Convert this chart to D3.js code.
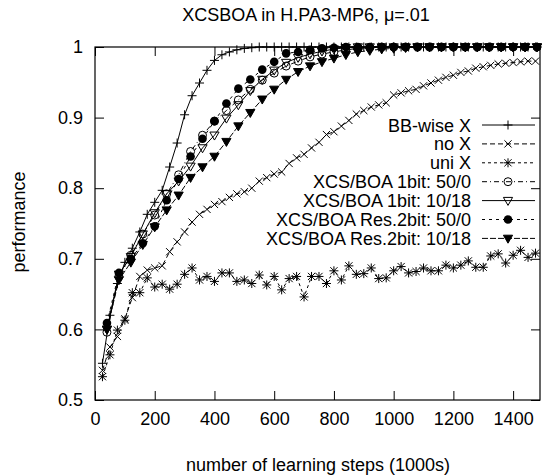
<!DOCTYPE html>
<html>
<head>
<meta charset="utf-8">
<script src="https://cdn.jsdelivr.net/npm/d3@7"></script>
<style>
body { margin: 0; background: #fff; }
text { font-family: "Liberation Sans", Arial, Helvetica, sans-serif; font-size: 18px; fill: #000; }
</style>
</head>
<body>
<script>
// learning steps (1000s) for the X experiments and for the XCS/BOA runs
var stepsX = [25, 50, 75, 100, 125, 150, 175, 200, 225, 250, 275, 300, 325, 350, 375, 400, 425, 450, 475, 500,
              525, 550, 575, 600, 625, 650, 675, 700, 725, 750, 775, 800, 825, 850, 875, 900, 925, 950, 975, 1000,
              1025, 1050, 1075, 1100, 1125, 1150, 1175, 1200, 1225, 1250, 1275, 1300, 1325, 1350, 1375, 1400, 1425, 1450, 1475];
var stepsBOA = [40, 80, 120, 160, 200, 240, 280, 320, 360, 400, 440, 480, 520, 560, 600, 640, 680, 720, 760, 800,
                840, 880, 920, 960, 1000, 1040, 1080, 1120, 1160, 1200, 1240, 1280, 1320, 1360, 1400, 1440, 1480];

var bbWise = [0.552, 0.62, 0.665, 0.695, 0.715, 0.738, 0.763, 0.78, 0.797, 0.83, 0.864, 0.904, 0.931, 0.949, 0.967, 0.981, 0.989, 0.993, 0.996, 0.998,
              0.999, 1, 1, 1, 1, 1, 1, 1, 1, 1, 1, 1, 1, 1, 1, 1, 1, 1, 1, 1,
              1, 1, 1, 1, 1, 1, 1, 1, 1, 1, 1, 1, 1, 1, 1, 1, 1, 1, 1];
var noX = [0.542, 0.575, 0.59, 0.615, 0.645, 0.675, 0.684, 0.687, 0.69, 0.71, 0.724, 0.738, 0.752, 0.763, 0.77, 0.777, 0.781, 0.787, 0.792, 0.795,
           0.8, 0.81, 0.815, 0.82, 0.823, 0.835, 0.843, 0.848, 0.857, 0.865, 0.876, 0.88, 0.888, 0.896, 0.905, 0.91, 0.915, 0.918, 0.921, 0.932,
           0.935, 0.938, 0.94, 0.945, 0.949, 0.953, 0.957, 0.96, 0.964, 0.966, 0.97, 0.972, 0.974, 0.976, 0.977, 0.978, 0.979, 0.98, 0.98];
var uniX = [0.533, 0.564, 0.599, 0.613, 0.652, 0.652, 0.673, 0.66, 0.664, 0.657, 0.664, 0.678, 0.687, 0.67, 0.675, 0.668, 0.68, 0.68, 0.668, 0.67,
            0.665, 0.677, 0.663, 0.675, 0.656, 0.672, 0.675, 0.646, 0.675, 0.675, 0.665, 0.683, 0.67, 0.69, 0.678, 0.679, 0.687, 0.672, 0.673, 0.683,
            0.689, 0.68, 0.682, 0.687, 0.683, 0.683, 0.691, 0.687, 0.691, 0.697, 0.688, 0.688, 0.704, 0.707, 0.694, 0.705, 0.712, 0.702, 0.708];
var boa1bit50 = [0.596, 0.675, 0.705, 0.735, 0.762, 0.792, 0.819, 0.852, 0.875, 0.895, 0.91, 0.925, 0.94, 0.953, 0.963, 0.973, 0.98, 0.986, 0.99, 0.993,
                 0.996, 0.998, 0.999, 1, 1, 1, 1, 1, 1, 1, 1, 1, 1, 1, 1, 1, 1];
var boa1bit10 = [0.6, 0.678, 0.703, 0.735, 0.765, 0.792, 0.81, 0.831, 0.857, 0.875, 0.899, 0.918, 0.938, 0.954, 0.967, 0.978, 0.985, 0.99, 0.994, 0.997,
                 0.999, 1, 1, 1, 1, 1, 1, 1, 1, 1, 1, 1, 1, 1, 1, 1, 1];
var boaRes50 = [0.609, 0.68, 0.7, 0.722, 0.746, 0.783, 0.813, 0.845, 0.87, 0.895, 0.92, 0.941, 0.954, 0.968, 0.979, 0.991, 0.993, 0.996, 0.998, 0.999,
                1, 1, 1, 1, 1, 1, 1, 1, 1, 1, 1, 1, 1, 1, 1, 1, 1];
var boaRes10 = [0.6, 0.67, 0.695, 0.72, 0.745, 0.769, 0.79, 0.815, 0.83, 0.845, 0.866, 0.888, 0.907, 0.926, 0.94, 0.954, 0.965, 0.973, 0.979, 0.984,
                0.989, 0.993, 0.995, 0.997, 0.998, 0.999, 1, 1, 1, 1, 1, 1, 1, 1, 1, 1, 1];

var seriesNames = ["BB-wise X", "no X", "uni X", "XCS/BOA 1bit: 50/0", "XCS/BOA 1bit: 10/18",
                   "XCS/BOA Res.2bit: 50/0", "XCS/BOA Res.2bit: 10/18"];
var xTicks = [0, 200, 400, 600, 800, 1000, 1200, 1400];
var yTicks = [0.5, 0.6, 0.7, 0.8, 0.9, 1];
var yTickLabels = ["0.5", "0.6", "0.7", "0.8", "0.9", "1"];

// line / point style for each series, gnuplot monochrome look
var styles = [
  {dash: null,      pt: "plus"},
  {dash: "5,3",     pt: "cross"},
  {dash: "3,3",     pt: "star"},
  {dash: "5,3,1,3", pt: "circle"},
  {dash: null,      pt: "triOpen"},
  {dash: "3,4",     pt: "dot"},
  {dash: "6,2",     pt: "triFilled"}
];

var series = [
  {xs: stepsX, ys: bbWise},
  {xs: stepsX, ys: noX},
  {xs: stepsX, ys: uniX},
  {xs: stepsBOA, ys: boa1bit50},
  {xs: stepsBOA, ys: boa1bit10},
  {xs: stepsBOA, ys: boaRes50},
  {xs: stepsBOA, ys: boaRes10}
].map(function(s, i) {
  return {name: seriesNames[i], style: styles[i],
          values: s.xs.map(function(x, j) { return {x: x, y: s.ys[j]}; })};
});

var margin = {top: 47, right: 2, bottom: 76, left: 95},
    width = 542 - margin.left - margin.right,
    height = 476 - margin.top - margin.bottom;

var x = d3.scaleLinear().domain([0, 1490]).range([0, width]);
var y = d3.scaleLinear().domain([0.5, 1]).range([height, 0]);

var svg = d3.select("body").append("svg")
    .attr("width", 542)
    .attr("height", 476);

var g = svg.append("g")
    .attr("transform", "translate(" + margin.left + "," + margin.top + ")");

// axes, ticks pointing inwards and mirrored on top / right
g.append("g")
    .attr("transform", "translate(0," + height + ")")
    .call(d3.axisBottom(x).tickValues(xTicks).tickSizeInner(-9).tickSizeOuter(0).tickPadding(12).tickFormat(d3.format("d")));
g.append("g")
    .call(d3.axisTop(x).tickValues(xTicks).tickSizeInner(-9).tickSizeOuter(0).tickFormat(""));
g.append("g")
    .call(d3.axisLeft(y).tickValues(yTicks).tickSizeInner(-9).tickSizeOuter(0).tickPadding(12)
      .tickFormat(function(d, i) { return yTickLabels[i]; }));
g.append("g")
    .attr("transform", "translate(" + width + ",0)")
    .call(d3.axisRight(y).tickValues(yTicks).tickSizeInner(-9).tickSizeOuter(0).tickFormat(""));

g.selectAll(".domain").remove();
g.selectAll(".tick line").attr("stroke", "#000");
g.selectAll(".tick text").style("font-size", "18px").attr("fill", "#000");

g.append("rect")
    .attr("width", width)
    .attr("height", height)
    .attr("fill", "none")
    .attr("stroke", "#000")
    .attr("stroke-width", 1.2);

// point symbols
function drawPoint(sel, pt) {
  var r = 4.5;
  if (pt == "plus" || pt == "star") {
    sel.append("path").attr("d", "M" + (-r) + ",0H" + r + "M0," + (-r) + "V" + r)
      .attr("stroke", "#000").attr("fill", "none");
  }
  if (pt == "cross" || pt == "star") {
    var c = 3.6;
    sel.append("path").attr("d", "M" + (-c) + "," + (-c) + "L" + c + "," + c + "M" + (-c) + "," + c + "L" + c + "," + (-c))
      .attr("stroke", "#000").attr("fill", "none");
  }
  if (pt == "circle") {
    sel.append("circle").attr("r", 4).attr("fill", "none").attr("stroke", "#000");
  }
  if (pt == "dot") {
    sel.append("circle").attr("r", 4.3).attr("fill", "#000");
  }
  if (pt == "triOpen" || pt == "triFilled") {
    sel.append("path").attr("d", "M-4.6,-3.2L4.6,-3.2L0,4.8Z")
      .attr("stroke", "#000")
      .attr("fill", pt == "triFilled" ? "#000" : "none");
  }
}

var line = d3.line()
    .x(function(d) { return x(d.x); })
    .y(function(d) { return y(d.y); });

var sg = g.selectAll(".series")
    .data(series)
    .enter().append("g")
    .attr("class", "series");

sg.append("path")
    .attr("d", function(d) { return line(d.values); })
    .attr("fill", "none")
    .attr("stroke", "#000")
    .attr("stroke-width", 1)
    .attr("stroke-dasharray", function(d) { return d.style.dash; });

sg.each(function(s) {
  d3.select(this).selectAll(".pt")
    .data(s.values)
    .enter().append("g")
    .attr("class", "pt")
    .attr("transform", function(d) { return "translate(" + x(d.x) + "," + y(d.y) + ")"; })
    .each(function() { drawPoint(d3.select(this), s.style.pt); });
});

// key, top right inside the frame
var legend = g.append("g").attr("transform", "translate(0," + (125 - margin.top) + ")");
var row = legend.selectAll(".key")
    .data(series)
    .enter().append("g")
    .attr("class", "key")
    .attr("transform", function(d, i) { return "translate(0," + (i * 18.9) + ")"; });

row.append("text")
    .attr("x", 471 - margin.left)
    .attr("y", 6.5)
    .attr("text-anchor", "end")
    .text(function(d) { return d.name; });
row.append("line")
    .attr("x1", 482 - margin.left)
    .attr("x2", 535 - margin.left)
    .attr("stroke", "#000")
    .attr("stroke-dasharray", function(d) { return d.style.dash; });
row.append("g")
    .attr("transform", "translate(" + (508 - margin.left) + ",0)")
    .each(function(d) { drawPoint(d3.select(this), d.style.pt); });

// titles
svg.append("text")
    .attr("x", 306)
    .attr("y", 21)
    .attr("text-anchor", "middle")
    .text("XCSBOA in H.PA3-MP6, \u03bc=.01");

svg.append("text")
    .attr("x", 318)
    .attr("y", 471)
    .attr("text-anchor", "middle")
    .text("number of learning steps (1000s)");

svg.append("text")
    .attr("transform", "translate(25,222) rotate(-90)")
    .attr("text-anchor", "middle")
    .text("performance");
</script>
</body>
</html>
